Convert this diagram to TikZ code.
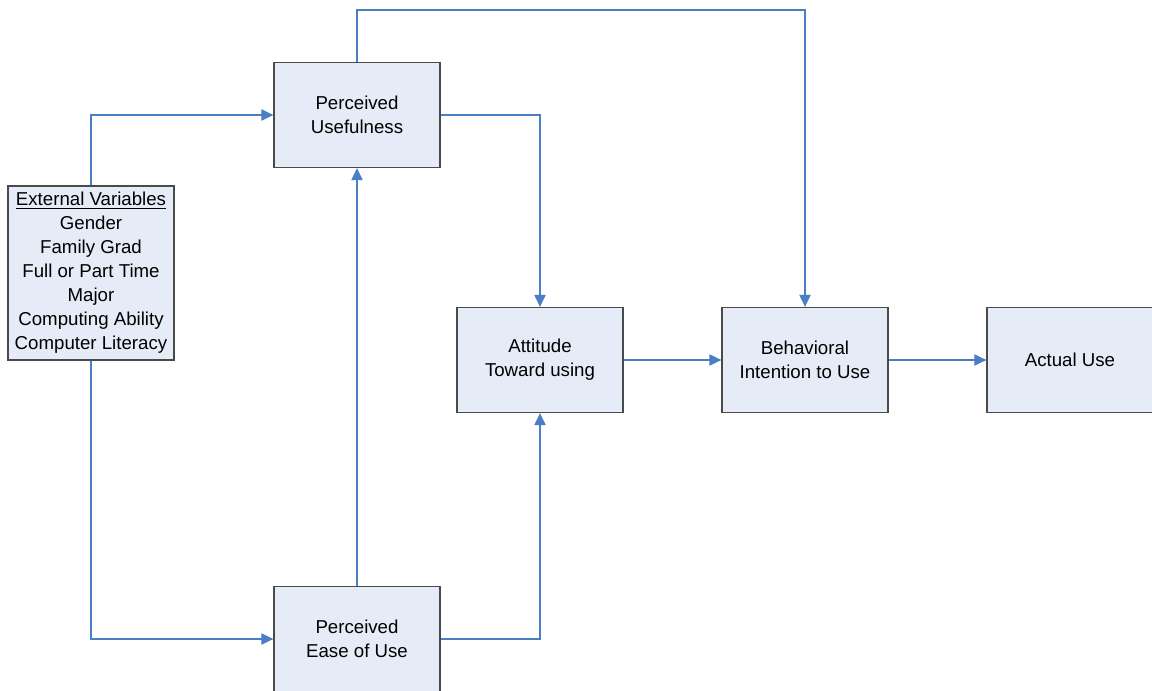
\documentclass[tikz,border=0pt]{standalone}
\usepackage{fontspec}
\setmainfont{Liberation Sans}
\usetikzlibrary{arrows.meta}
\definecolor{boxfill}{HTML}{E6ECF7}
\definecolor{boxline}{HTML}{4A4A4A}
\definecolor{linkblue}{HTML}{4A7EC5}
\begin{document}
\begin{tikzpicture}[x=0.75pt,y=-0.75pt]
            \tikzstyle{box}=[draw=boxline, fill=boxfill, line width=1pt, align=center,
                minimum width=124.5pt, minimum height=78.75pt, inner sep=0pt,
                font=\fontsize{14pt}{18pt}\selectfont]
            \tikzstyle{link}=[draw=linkblue, line width=0.8pt, -{Triangle[length=9pt,width=8.5pt]}]
            \useasboundingbox (0,0) rectangle (1152,690);
            \node [box, minimum height=130.5pt] (ext) at (91,273) {\underline{External Variables}\\Gender\\Family Grad\\Full or Part Time\\Major\\Computing Ability\\Computer Literacy};
            \node [box] (pu) at (357,115) {Perceived\\Usefulness};
            \node [box] (peou) at (357,639) {Perceived\\Ease of Use};
            \node [box] (att) at (540,360) {Attitude\\Toward using};
            \node [box] (bi) at (805,360) {Behavioral\\Intention to Use};
            \node [box] (au) at (1070,360) {Actual Use};
            \coordinate (top) at (805,10);
            \draw [link] (ext.north) |- (pu.west);
            \draw [link] (ext.south) |- (peou.west);
            \draw [link] (peou.north) -- (pu.south);
            \draw [link] (pu.east) -| (att.north);
            \draw [link] (peou.east) -| (att.south);
            \draw [link] (pu.north) |- (top) -- (bi.north);
            \draw [link] (att.east) -- (bi.west);
            \draw [link] (bi.east) -- (au.west);
\end{tikzpicture}
\end{document}
